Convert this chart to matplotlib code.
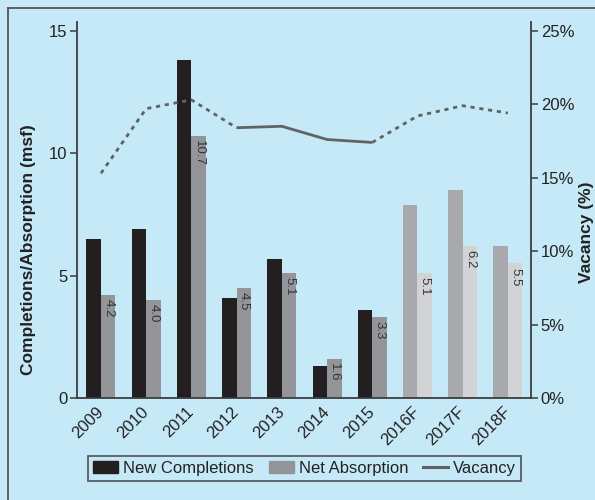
import matplotlib
matplotlib.use('Agg')
import matplotlib.pyplot as plt
from matplotlib.lines import Line2D
from matplotlib.patches import Patch

plt.rcParams['font.family'] = ['Liberation Sans', 'DejaVu Sans']

# Data
years = ['2009', '2010', '2011', '2012', '2013', '2014', '2015', '2016F', '2017F', '2018F']
completions = [6.5, 6.9, 13.8, 4.1, 5.7, 1.3, 3.6, 7.9, 8.5, 6.2]     # msf
absorption = [4.2, 4.0, 10.7, 4.5, 5.1, 1.6, 3.3, 5.1, 6.2, 5.5]      # msf
vacancy = [15.3, 19.7, 20.3, 18.4, 18.5, 17.6, 17.4, 19.2, 19.9, 19.4]  # %
forecast = [False] * 7 + [True] * 3

bg = '#c6e9f8'
dark = '#3c3c3e'
line_col = '#616264'

comp_cols = ['#a7a9ac' if f else '#231f20' for f in forecast]
abs_cols = ['#d1d3d4' if f else '#939598' for f in forecast]

fig = plt.figure(figsize=(5.95, 5.0), dpi=100, facecolor=bg)
ax = fig.add_axes([0.1294, 0.204, 0.763, 0.752])
ax.set_facecolor(bg)

x = list(range(len(years)))
w = 0.32
ax.bar([i - w / 2 for i in x], completions, width=w, color=comp_cols, zorder=2)
ax.bar([i + w / 2 for i in x], absorption, width=w, color=abs_cols, zorder=2)

# value labels inside the absorption bars
for i, v in enumerate(absorption):
    ax.text(i + w / 2, v - 0.17, f'{v:.1f}', rotation=-90, ha='center', va='top',
            fontsize=9.5, color='#333335', zorder=3)

ax.set_xlim(-0.53, 9.51)
ax.set_ylim(0, 15.37)
ax.set_yticks([0, 5, 10, 15])
ax.set_xticks(x)
ax.set_xticklabels(years, rotation=45, ha='right', va='center', rotation_mode='anchor')
ax.tick_params(axis='x', length=0, pad=8, labelsize=12, labelcolor='#222')
ax.tick_params(axis='y', length=5, width=1.1, color=dark, labelsize=12, labelcolor='#222', pad=2)
for s in ['top', 'right']:
    ax.spines[s].set_visible(False)
for s in ['left', 'bottom']:
    ax.spines[s].set_color(dark)
    ax.spines[s].set_linewidth(1.3)

# vacancy on the secondary axis: dashed before 2012 and for forecasts
ax2 = ax.twinx()
ax2.set_ylim(0, 25.6)
ax2.set_yticks([0, 5, 10, 15, 20, 25])
ax2.set_yticklabels([f'{t}%' for t in [0, 5, 10, 15, 20, 25]])
ax2.tick_params(axis='y', length=5, width=1.1, color=dark, labelsize=12, labelcolor='#222', pad=2)
for s in ['top', 'left', 'bottom']:
    ax2.spines[s].set_visible(False)
ax2.spines['right'].set_color(dark)
ax2.spines['right'].set_linewidth(1.3)

segments = [(0, 3, '--'), (3, 6, '-'), (6, 9, '--')]
for a, b, ls in segments:
    ln, = ax2.plot(x[a:b + 1], vacancy[a:b + 1], color=line_col, lw=2.0, ls=ls,
                   solid_capstyle='butt', dash_capstyle='butt')
    if ls == '--':
        ln.set_dashes((1.5, 1.7))

fig.text(28.5 / 595, 0.5, 'Completions/Absorption (msf)', rotation=90, ha='center',
         va='center', fontsize=12.5, fontweight='bold', color='#222')
fig.text(586 / 595, 1 - 232 / 500, 'Vacancy (%)', rotation=90, ha='center',
         va='center', fontsize=12.5, fontweight='bold', color='#222')

handles = [Patch(color='#231f20'), Patch(color='#939598'),
           Line2D([0], [0], color=line_col, lw=2.2)]
leg = fig.legend(handles, ['New Completions', 'Net Absorption', 'Vacancy'],
                 loc='center', bbox_to_anchor=(0.512, 0.063), ncol=3, fontsize=12,
                 frameon=True, fancybox=False, handlelength=1.5, handleheight=0.7,
                 handletextpad=0.3, columnspacing=0.9, borderpad=0.3)
leg.get_frame().set_facecolor(bg)
leg.get_frame().set_edgecolor(dark)
leg.get_frame().set_linewidth(1.3)
for t in leg.get_texts():
    t.set_color('#222')

# outer frame lines (top and left)
fig.add_artist(Line2D([8 / 595, 1], [1 - 8 / 500, 1 - 8 / 500], color='#555557', lw=1.3,
                      transform=fig.transFigure))
fig.add_artist(Line2D([8 / 595, 8 / 595], [0, 1 - 8 / 500], color='#555557', lw=1.3,
                      transform=fig.transFigure))

fig.savefig('out.png', dpi=100, facecolor=bg)
